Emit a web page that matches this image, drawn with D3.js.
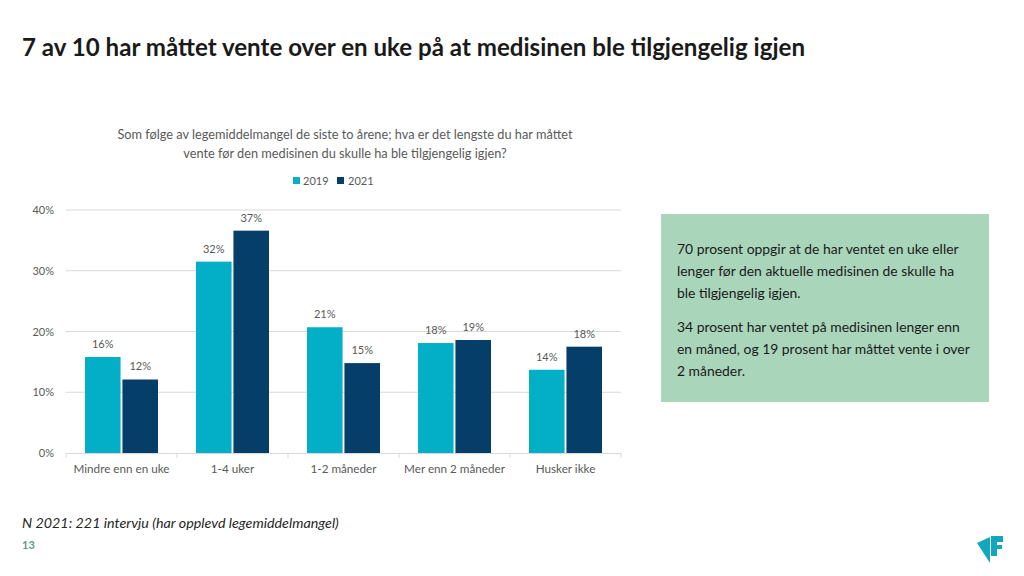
<!DOCTYPE html>
<html><head><meta charset="utf-8">
<script src="https://cdn.jsdelivr.net/npm/d3@7"></script>
<style>
body{margin:0;background:#fff;}
svg{display:block;font-family:Lato,"Open Sans",sans-serif;}
</style></head>
<body>
<svg id="c" width="1024" height="576"></svg>
<script>
const categories = ["Mindre enn en uke","1-4 uker","1-2 måneder","Mer enn 2 måneder","Husker ikke"];
const seriesNames = ["2019","2021"];
const values2019 = [15.8, 31.5, 20.7, 18.1, 13.7];
const values2021 = [12.1, 36.6, 14.8, 18.6, 17.5];
const labels2019 = ["16%","32%","21%","18%","14%"];
const labels2021 = ["12%","37%","15%","19%","18%"];
const yTicks = [0,10,20,30,40];
const colors = ["#03AEC7","#053F69"];

const svg = d3.select("#c");

svg.append("text").attr("x",22).attr("y",56).attr("font-size",24).attr("font-weight","bold")
  .attr("fill","#1a1a1a").attr("textLength",783).attr("lengthAdjust","spacingAndGlyphs")
  .text("7 av 10 har måttet vente over en uke på at medisinen ble tilgjengelig igjen");

svg.append("text").attr("x",345).attr("y",139).attr("text-anchor","middle").attr("font-size",12.75).attr("fill","#595959")
  .text("Som følge av legemiddelmangel de siste to årene; hva er det lengste du har måttet");
svg.append("text").attr("x",345).attr("y",158).attr("text-anchor","middle").attr("font-size",12.75).attr("fill","#595959")
  .text("vente før den medisinen du skulle ha ble tilgjengelig igjen?");

// legend
const leg = svg.append("g");
[[293,303],[337,348]].forEach((p,i)=>{
  leg.append("rect").attr("x",p[0]).attr("y",177).attr("width",7).attr("height",7).attr("fill",colors[i]);
  leg.append("text").attr("x",p[1]).attr("y",184.5).attr("font-size",11).attr("fill","#595959").text(seriesNames[i]);
});

const x = d3.scaleBand().domain(categories).range([66,621]);
const y = d3.scaleLinear().domain([0,40]).range([453,210]);
const xs = d3.scaleBand().domain(seriesNames).range([0,73]).paddingInner(0.05);

// gridlines
svg.append("g").selectAll("line").data(yTicks.filter(d=>d>0)).join("line")
  .attr("x1",66).attr("x2",621).attr("y1",d=>y(d)).attr("y2",d=>y(d))
  .attr("stroke","#d9d9d9").attr("stroke-width",1);

// y axis labels
const yAxis = d3.axisLeft(y).tickValues(yTicks).tickFormat(d=>d+"%").tickSize(0).tickPadding(0);
const ya = svg.append("g").attr("transform","translate(54,0)").call(yAxis);
ya.select(".domain").remove();
ya.selectAll("text").attr("font-size",11).attr("fill","#595959").attr("font-family","Lato,'Open Sans',sans-serif");

// bars
const data = categories.map((c,i)=>({c, vals:[values2019[i],values2021[i]], labs:[labels2019[i],labels2021[i]]}));
const g = svg.append("g");
data.forEach(d=>{
  const gx = x(d.c) + (x.bandwidth()-73)/2;
  seriesNames.forEach((s,j)=>{
    g.append("rect").attr("x",gx+xs(s)).attr("y",y(d.vals[j])).attr("width",xs.bandwidth())
      .attr("height",y(0)-y(d.vals[j])).attr("fill",colors[j]);
    g.append("text").attr("x",gx+xs(s)+xs.bandwidth()/2).attr("y",y(d.vals[j])-9)
      .attr("text-anchor","middle").attr("font-size",11).attr("fill","#595959").text(d.labs[j]);
  });
});

// x axis
const xAxis = d3.axisBottom(x).tickSize(0).tickPadding(12);
const xa = svg.append("g").attr("transform","translate(0,453)").call(xAxis);
xa.select(".domain").attr("stroke","#d9d9d9");
xa.selectAll("text").attr("font-size",11.7).attr("fill","#595959").attr("font-family","Lato,'Open Sans',sans-serif");
const bounds = categories.map(c=>x(c)).concat([621]);
xa.selectAll(".sep").data(bounds).join("line").attr("class","sep")
  .attr("x1",d=>d).attr("x2",d=>d).attr("y1",0).attr("y2",5).attr("stroke","#d9d9d9");

// green box
svg.append("rect").attr("x",661).attr("y",214).attr("width",328).attr("height",188).attr("fill","#A9D5BB");
const boxLines = [
  ["70 prosent oppgir at de har ventet en uke eller",254],
  ["lenger før den aktuelle medisinen de skulle ha",276],
  ["ble tilgjengelig igjen.",298],
  ["34 prosent har ventet på medisinen lenger enn",332],
  ["en måned, og 19 prosent har måttet vente i over",354],
  ["2 måneder.",376]
];
boxLines.forEach(l=>svg.append("text").attr("x",677).attr("y",l[1]).attr("font-size",13.9).attr("fill","#1a1a1a").text(l[0]));

// footnote
svg.append("text").attr("x",22).attr("y",528).attr("font-size",14.3).attr("font-style","italic").attr("fill","#262626")
  .text("N 2021: 221 intervju (har opplevd legemiddelmangel)");
svg.append("text").attr("x",22).attr("y",549).attr("font-size",11).attr("font-weight","bold").attr("fill","#5B9B8C").text("13");

// logo
svg.append("path").attr("d","M977,543 L990,537 L990,563 Z").attr("fill","#12A7BF");
svg.append("path").attr("d","M991,536 L1003,536 L1003,542 L997,542 L997,545 L1002,545 L1002,549 L997,549 L997,556 L991,556 Z").attr("fill","#12A7BF");
</script>
</body></html>
